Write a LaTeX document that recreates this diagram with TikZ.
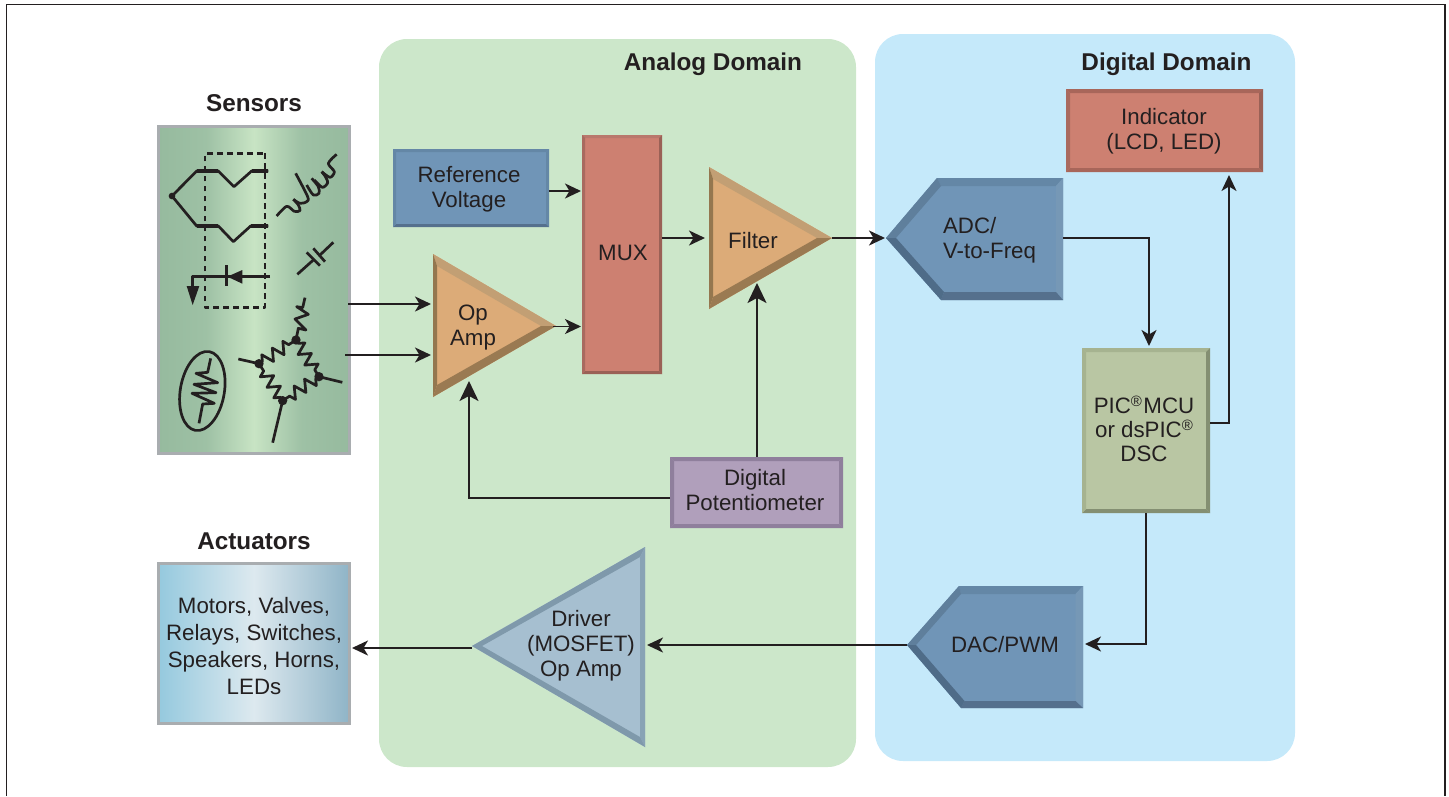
\documentclass[tikz,border=0pt]{standalone}
\usepackage{fontspec}
\setmainfont{Liberation Sans}
\usetikzlibrary{arrows.meta,calc,decorations.pathmorphing}
\definecolor{ink}{HTML}{231F20}
\definecolor{analog}{HTML}{CCE7CA}
\definecolor{digital}{HTML}{C5E9FA}
\definecolor{frameg}{HTML}{A9ADB0}
\definecolor{senedge}{HTML}{96BA9E}
\definecolor{senlo}{HTML}{9EC1A5}
\definecolor{senmid}{HTML}{C8E4C4}
\definecolor{actl}{HTML}{95C9DE}
\definecolor{actm}{HTML}{DDE9EF}
\definecolor{actr}{HTML}{8FB4C7}
\definecolor{blfill}{HTML}{7095B7}
\definecolor{bltop}{HTML}{6487A6}
\definecolor{blbot}{HTML}{55708D}
\definecolor{bllight}{HTML}{7698B6}
\definecolor{blleft}{HTML}{5F7F9C}
\definecolor{bldark}{HTML}{4F6C88}
\definecolor{redfill}{HTML}{CD8071}
\definecolor{redtop}{HTML}{B9786C}
\definecolor{reddark}{HTML}{9A6156}
\definecolor{redleft}{HTML}{A96A5F}
\definecolor{redind}{HTML}{A8665A}
\definecolor{purfill}{HTML}{B09FBB}
\definecolor{purdark}{HTML}{8F7F9C}
\definecolor{grnfill}{HTML}{B9C6A3}
\definecolor{grnlite}{HTML}{A6B390}
\definecolor{grndark}{HTML}{848F72}
\definecolor{orfill}{HTML}{DCAB78}
\definecolor{ortop}{HTML}{C29F74}
\definecolor{orleft}{HTML}{94774F}
\definecolor{orbot}{HTML}{9A7A52}
\definecolor{drvfill}{HTML}{A6BFD0}
\definecolor{drvedge}{HTML}{7F99AB}
\definecolor{drvright}{HTML}{88A3B5}
\pgfdeclarehorizontalshading{senshade}{100bp}{color(0bp)=(senedge); color(25bp)=(senedge); color(37.5bp)=(senlo); color(50bp)=(senmid); color(62.5bp)=(senlo); color(75bp)=(senedge); color(100bp)=(senedge)}
\newcommand{\regmark}{\raisebox{7pt}{\fontsize{15}{15}\selectfont ®}}
\tikzset{
  x=1pt,y=-1pt,
  txt/.style={font=\fontsize{22.3}{25}\selectfont,text=ink,align=center,inner sep=0pt,outer sep=0pt},
  ttl/.style={font=\fontsize{24.3}{27}\selectfont\bfseries,text=ink,inner sep=0pt},
  domainbox/.style={rounded corners=28pt},
  conn/.style={draw=ink,line width=1.9pt,-{Stealth[length=16pt,width=15pt,inset=4.5pt]}},
  bigconn/.style={draw=ink,line width=1.9pt,-{Stealth[length=20pt,width=19pt,inset=5pt]}},
  sym/.style={draw=ink,line width=2.7pt,line join=round},
  zig/.style={sym,decorate,decoration={zigzag,segment length=12.5pt,amplitude=6pt,pre length=4pt,post length=4pt}},
  hold/.style={rectangle,inner sep=0pt,outer sep=0pt},
}
% name, x0,y0,x1,y1, bevel, fill, top,right,bottom,left
\newcommand{\bevelrect}[9]{%
  \node[hold,fill=#7,minimum width={(#4-#2)*1pt},minimum height={(#5-#3)*1pt}] (#1) at ($(#2,#3)!.5!(#4,#5)$) {};
  \def\bA{#2}\def\bB{#3}\def\bC{#4}\def\bD{#5}\def\bW{#6}\bevelrest{#8}{#9}}
\newcommand{\bevelrest}[4]{%
  \fill[#1] (\bA,\bB) -- (\bC,\bB) -- (\bC-\bW,\bB+\bW) -- (\bA+\bW,\bB+\bW) -- cycle;
  \fill[#2] (\bC,\bB) -- (\bC,\bD) -- (\bC-\bW,\bD-\bW) -- (\bC-\bW,\bB+\bW) -- cycle;
  \fill[#3] (\bA,\bD) -- (\bC,\bD) -- (\bC-\bW,\bD-\bW) -- (\bA+\bW,\bD-\bW) -- cycle;
  \fill[#4] (\bA,\bB) -- (\bA,\bD) -- (\bA+\bW,\bD-\bW) -- (\bA+\bW,\bB+\bW) -- cycle;
}
\begin{document}
\begin{tikzpicture}
\useasboundingbox (0,0) rectangle (1449,796);
% outer frame (open at the foot of the page)
\draw[ink,line width=1.6pt] (6.5,796) -- (6.5,4.5) -- (1445,4.5) -- (1445,796);
% domains
\fill[analog,domainbox] (379,39) rectangle (856,767);
\fill[digital,domainbox] (875,34) rectangle (1295,761);
\node[ttl] (analogtitle) at (713,64) {Analog Domain};
\node[ttl] (digitaltitle) at (1166.5,64) {Digital Domain};
\node[ttl] (sensorstitle) at (254,103) {Sensors};
\node[ttl] (actuatorstitle) at (254,541) {Actuators};
% sensors and actuators
\node[hold,draw=frameg,line width=3pt,shading=senshade,minimum width=191pt,minimum height=327pt] (sensors) at (254,290) {};
\node[hold,draw=frameg,line width=3pt,left color=actl,right color=actr,middle color=actm,minimum width=191pt,minimum height=160pt] (actuators) at (254,643.5) {};
\node[txt,font=\fontsize{22.3}{27}\selectfont] (actuatorstext) at (254,646.5) {Motors, Valves,\\Relays, Switches,\\Speakers, Horns,\\LEDs};
% rectangular blocks
\bevelrect{refv}{393}{149}{549}{227}{3}{blfill}{bltop}{bltop}{blbot}{bltop}
\node[txt] (refvtext) at (469,189) {Reference\\Voltage};
\bevelrect{mux}{582}{135}{662}{374}{3}{redfill}{redtop}{reddark}{reddark}{redleft}
\node[txt] (muxtext) at (623,253) {MUX};
\bevelrect{indicator}{1066}{89}{1263}{172}{4}{redfill}{redind}{reddark}{redind}{redleft}
\node[txt] (indicatortext) at (1164,131) {Indicator\\(LCD, LED)};
\bevelrect{pot}{670}{457}{843}{528}{4}{purfill}{purdark}{purdark}{purdark}{purdark}
\node[txt] (pottext) at (755,490.5) {Digital\\Potentiometer};
\bevelrect{pic}{1082}{348}{1210}{513}{4}{grnfill}{grnlite}{grndark}{grndark}{grnlite}
\node[txt,font=\fontsize{22.3}{24}\selectfont] (pictext) at (1144,428.5) {PIC\regmark\kern1.5pt MCU\\or dsPIC\regmark\\DSC};
% triangles
\node[hold,minimum width=123pt,minimum height=143pt] (opamp) at (494.5,325.5) {};
\fill[orfill] (433,254) -- (556,326) -- (433,397) -- cycle;
\fill[ortop] (433,254) -- (556,326) -- (541,326) -- (437,266) -- cycle;
\fill[orleft] (433,254) -- (437,266) -- (437,385) -- (433,397) -- cycle;
\fill[orbot] (433,397) -- (556,326) -- (541,326) -- (437,385) -- cycle;
\node[txt] (opamptext) at (473,328) {Op\\Amp};
\node[hold,minimum width=123pt,minimum height=142pt] (filter) at (770.5,238) {};
\fill[orfill] (709,167) -- (832,238) -- (709,309) -- cycle;
\fill[ortop] (709,167) -- (832,238) -- (817,238) -- (713,179) -- cycle;
\fill[orleft] (709,167) -- (713,179) -- (713,297) -- (709,309) -- cycle;
\fill[orbot] (709,309) -- (832,238) -- (817,238) -- (713,297) -- cycle;
\node[txt] (filtertext) at (753,241) {Filter};
\node[hold,minimum width=173pt,minimum height=200pt] (driver) at (558.5,647) {};
\fill[drvfill] (472,646) -- (645,547) -- (645,747) -- cycle;
\fill[drvedge] (472,646) -- (645,547) -- (640,557) -- (482,646) -- cycle;
\fill[drvright] (645,547) -- (645,747) -- (640,737) -- (640,557) -- cycle;
\fill[drvedge] (472,646) -- (645,747) -- (640,737) -- (482,646) -- cycle;
\node[txt] (drivertext) at (581,646) {Driver\\(MOSFET)\\Op Amp};
% pentagon blocks
\node[hold,minimum width=177pt,minimum height=122pt] (adc) at (974.5,238) {};
\fill[blfill] (886,238) -- (937,178) -- (1063,178) -- (1063,300) -- (941,300) -- cycle;
\fill[bltop] (937,178) -- (1063,178) -- (1056,186) -- (941,186) -- cycle;
\fill[bllight] (1063,178) -- (1063,300) -- (1056,292) -- (1056,186) -- cycle;
\fill[blbot] (941,300) -- (1063,300) -- (1056,292) -- (944,292) -- cycle;
\fill[blleft] (886,238) -- (937,178) -- (941,186) -- (896,238) -- cycle;
\fill[bldark] (886,238) -- (941,300) -- (944,292) -- (896,238) -- cycle;
\node[txt,align=left] (adctext) at (989.5,240) {ADC/\\V-to-Freq};
\node[hold,minimum width=176pt,minimum height=122pt] (dac) at (995,647) {};
\fill[blfill] (907,645) -- (959,586) -- (1083,586) -- (1083,708) -- (961,708) -- cycle;
\fill[bltop] (959,586) -- (1083,586) -- (1075.5,594) -- (961,594) -- cycle;
\fill[bllight] (1083,586) -- (1083,708) -- (1075.5,701) -- (1075.5,594) -- cycle;
\fill[blbot] (961,708) -- (1083,708) -- (1075.5,701) -- (964.5,701) -- cycle;
\fill[blleft] (907,645) -- (959,586) -- (961,594) -- (916,645) -- cycle;
\fill[bldark] (907,645) -- (961,708) -- (964.5,701) -- (916,645) -- cycle;
\node[txt] (dactext) at (1005,645) {DAC/PWM};
% ---- sensor symbols
\begin{scope}[shift={(150,120)},x=.33333pt,y=-.33333pt]
  \draw[sym,dash pattern=on 5.5pt off 4.5pt] (345,100) -- (345,562) -- (165,562) -- (165,100) -- cycle;
  \coordinate (tc) at (66,228);
  \draw[sym] (tc) -- (140,153) -- (205,153) -- (252,200) -- (305,153) -- (355,153);
  \draw[sym] (tc) -- (140,318) -- (205,318) -- (250,365) -- (302,318) -- (355,318);
  \draw[sym,line width=3.2pt] (140,153) -- (205,153) (305,153) -- (355,153) (140,318) -- (205,318) (302,318) -- (355,318);
  \fill[ink] (tc) circle (10);
  % diode
  \draw[sym] (360,470) -- (128,470) -- (128,505);
  \fill[ink] (128,555) -- (110,498) -- (148,498) -- cycle;
  \draw[sym,line width=3.2pt] (230,435) -- (230,497);
  \fill[ink] (232,470) -- (277,450) -- (277,491) -- cycle;
  % capacitor
  \draw[sym] (442,463) -- (490,420) (510,405) -- (550,367);
  \draw[sym] (470,397) -- (510,437) (490,385) -- (525,425);
\end{scope}
% coil
\begin{scope}[shift={(265,140)},x=.33333pt,y=-.33333pt]
  \draw[sym,smooth] plot coordinates {(35,228) (65,199) (88,214) (105,212) (100,195) (85,178)};
  \draw[sym,smooth] plot coordinates {(85,178) (105,190) (125,185) (128,170) (92,100)};
  \draw[sym,smooth] plot coordinates {(125,135) (145,165) (162,160) (160,140) (140,115)};
  \draw[sym,smooth] plot coordinates {(148,120) (172,142) (188,128) (180,108) (170,95)};
  \draw[sym,smooth] plot coordinates {(170,95) (195,112) (208,95) (190,70) (215,43)};
\end{scope}
% thermistor
\begin{scope}[shift={(170,340)},x=.33333pt,y=-.33333pt]
  \draw[sym,rotate around={-10:(97,153)}] (97,153) ellipse (66 and 120);
  \draw[sym] (122,55) -- (113,97) -- (78,100) -- (143,128) -- (72,133) -- (138,158) -- (66,160) -- (133,190) -- (98,192) -- (87,250);
\end{scope}
% bridge
\begin{scope}[shift={(230,295)},x=.33333pt,y=-.33333pt]
  \coordinate (bt) at (198,135);
  \coordinate (br) at (267,245);
  \coordinate (bb) at (158,317);
  \coordinate (bl) at (87,206);
  \draw[zig] (bt) -- (br);
  \draw[zig] (br) -- (bb);
  \draw[zig] (bb) -- (bl);
  \draw[zig] (bl) -- (bt);
  \draw[sym] (225,8) -- (218,38) -- (200,35) -- (235,58) -- (195,72) -- (228,105) -- (205,100) -- (bt);
  \draw[sym] (bl) -- (25,192);
  \draw[sym] (br) -- (337,262);
  \draw[sym] (bb) -- (128,443);
  \foreach \p in {bt,br,bb,bl} \fill[ink] (\p) circle (14);
\end{scope}
% ---- connectors
\coordinate (s1) at (348,304);
\coordinate (s2) at (345,355);
\coordinate (oppin1) at (431,304);
\coordinate (oppin2) at (431,355);
\coordinate (opfb) at (469,381);
\coordinate (filfb) at (757,283);
\coordinate (drvout) at (352,648);
\draw[conn] (s1) -- (oppin1);
\draw[conn] (s2) -- (oppin2);
\draw[conn] ([yshift=-3pt]refv.east) -- ([yshift=-3pt,xshift=-1pt]refv.east -| mux.west);
\draw[conn] ([xshift=-3pt,yshift=-1pt]opamp.east) -- ++(28,0);
\draw[conn] (mux.east |- filter.east) -- ([xshift=-4pt]filter.west);
\draw[conn] (filter.east) -- ([xshift=-1pt]adc.west);
\draw[bigconn] (pot.north -| filfb) -- (filfb);
\draw[bigconn] ([yshift=-5.5pt]pot.west) -- ([yshift=-5.5pt]pot.west -| opfb) -- (opfb);
\draw[conn] (adc.east) -- (adc.east -| 1149,0) -- (1149,346);
\draw[conn] (1210,423) -- (1229,423) -- (1229,175);
\draw[conn] (1146,513) -- (1146,644) -- (1085,644);
\draw[conn] (dac.west |- 0,645) -- (647,645);
\draw[conn] (driver.west |- 0,648) -- (drvout);
\end{tikzpicture}
\end{document}
